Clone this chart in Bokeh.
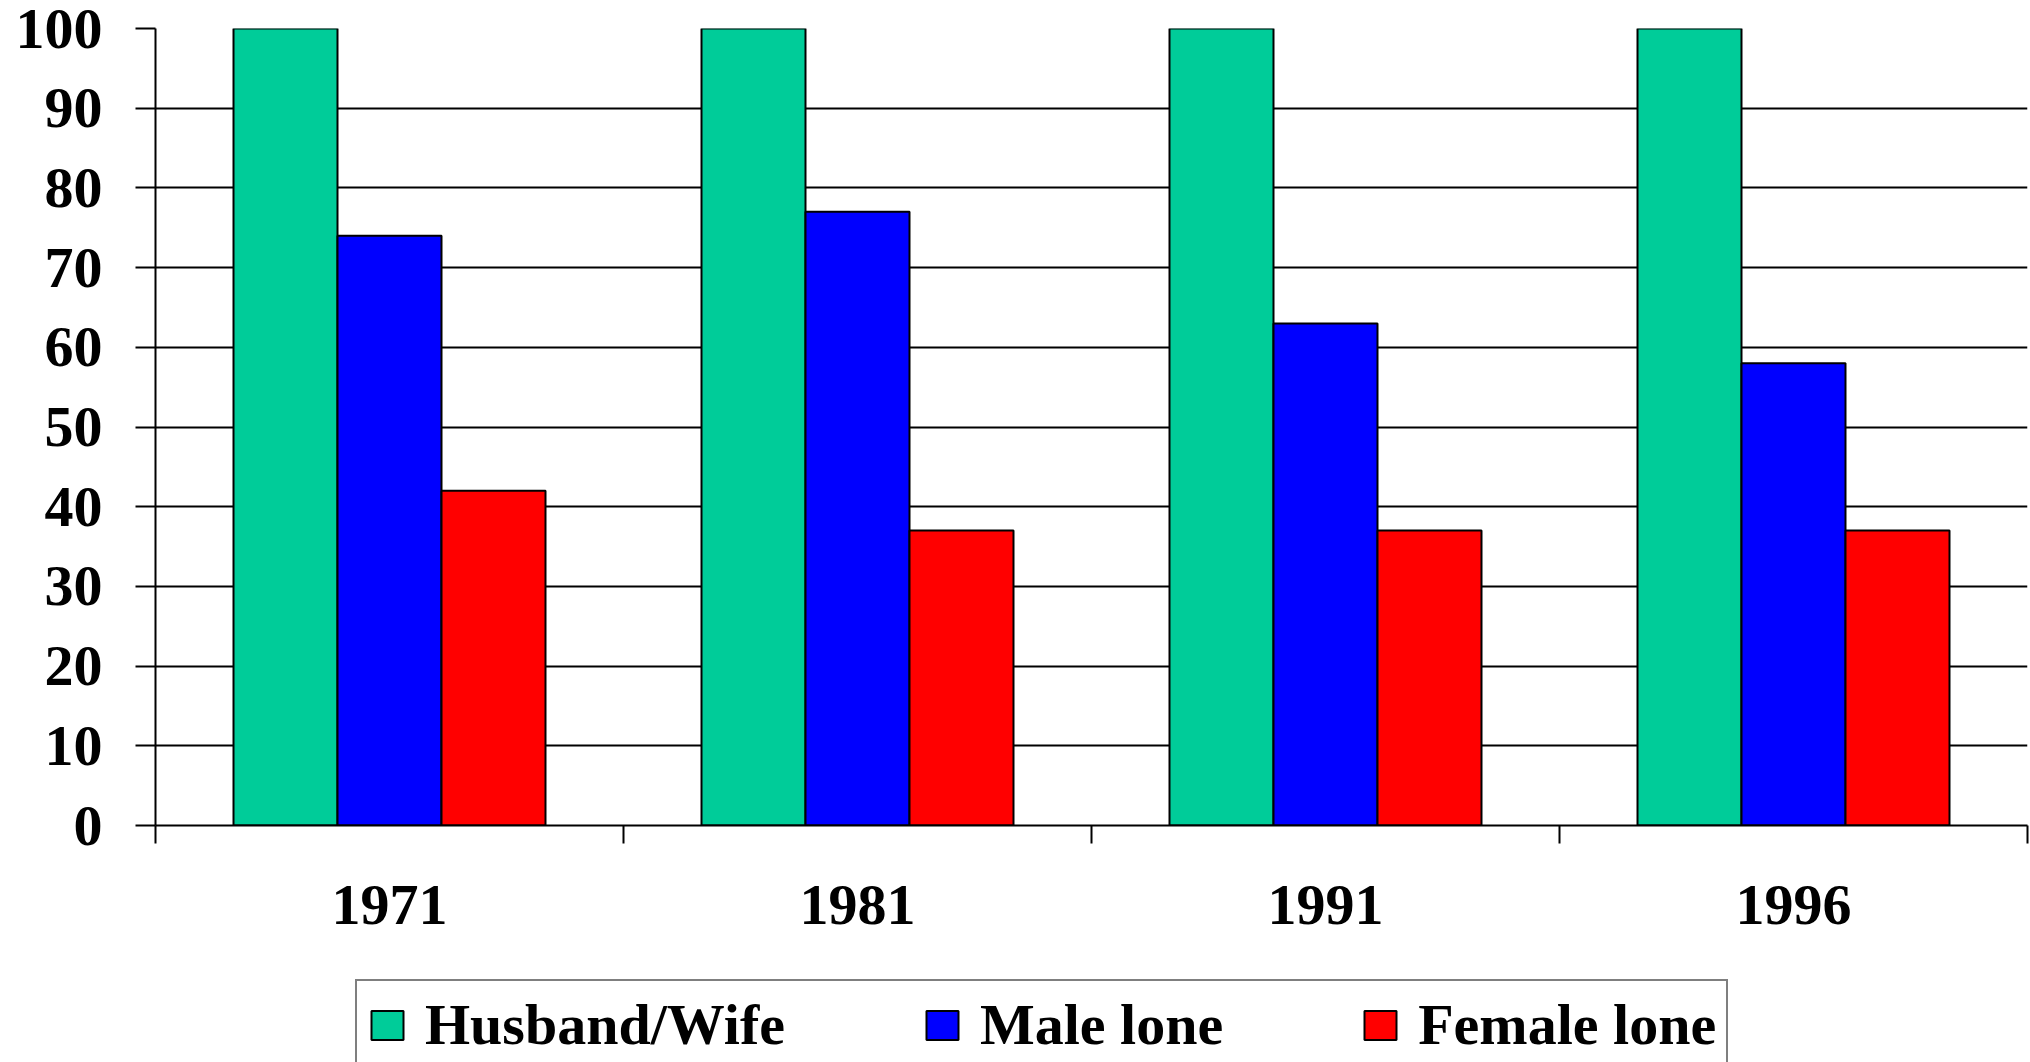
import numpy as np
from bokeh.plotting import figure
from bokeh.layouts import column, row
from bokeh.models import (ColumnDataSource, Range1d, FixedTicker, Legend, LegendItem,
                          CustomJSTickFormatter, Spacer)
from bokeh.embed import file_html
from bokeh.resources import INLINE

# ---- data ----
years = ["1971", "1981", "1991", "1996"]
husband_wife = [100, 100, 100, 100]
male_lone = [74, 77, 63, 58]
female_lone = [42, 37, 37, 37]
series_names = ["Husband/Wife", "Male lone", "Female lone"]
series_colors = ["#00CC99", "#0000FF", "#FF0000"]
y_ticks = list(range(0, 101, 10))

FONT = "Liberation Serif"
FSIZE = "58px"
n = len(years)
centers = np.arange(n) + 0.5
bar_w = 2 / 9
offsets = [-bar_w, 0.0, bar_w]
series_values = [husband_wife, male_lone, female_lone]

p = figure(width=2030, height=978, x_range=Range1d(0, n), y_range=Range1d(0, 100),
           output_backend="svg", toolbar_location=None,
           min_border_left=155, min_border_right=3, min_border_top=28, min_border_bottom=153)
p.outline_line_color = None
p.background_fill_color = "white"
p.border_fill_color = "white"

for vals, color, off in zip(series_values, series_colors, offsets):
    src = ColumnDataSource(dict(x=centers + off, top=vals))
    p.vbar(x="x", top="top", bottom=0, width=bar_w, source=src,
           fill_color=color, line_color="black", line_width=2)

# ---- x axis: labels at centers, ticks at category boundaries ----
xa = p.xaxis[0]
xa.ticker = FixedTicker(ticks=list(centers), minor_ticks=list(range(n + 1)))
xa.formatter = CustomJSTickFormatter(args=dict(labels=years),
                                     code="return labels[Math.floor(tick)]")
xa.axis_line_color = "black"
xa.axis_line_width = 2
xa.major_tick_out = 18
xa.major_tick_in = 0
xa.major_tick_line_color = None
xa.minor_tick_out = 18
xa.minor_tick_in = 0
xa.minor_tick_line_color = "black"
xa.minor_tick_line_width = 2
xa.major_label_standoff = 42

# ---- y axis ----
ya = p.yaxis[0]
ya.ticker = FixedTicker(ticks=y_ticks)
ya.axis_line_color = "black"
ya.axis_line_width = 2
ya.major_tick_out = 20
ya.major_tick_in = 0
ya.major_tick_line_color = "black"
ya.major_tick_line_width = 2
ya.minor_tick_line_color = None
ya.major_label_standoff = 33

for ax in (xa, ya):
    ax.major_label_text_font = FONT
    ax.major_label_text_font_style = "bold"
    ax.major_label_text_font_size = FSIZE
    ax.major_label_text_color = "black"

p.xgrid.grid_line_color = None
p.ygrid.grid_line_color = "black"
p.ygrid.grid_line_width = 2

# ---- legend strip (separate canvas under the chart; its bars hide behind the legend box) ----
PAD = 10
LEG_LEFT = 355
lg = figure(width=2030 - LEG_LEFT, height=84, output_backend="svg", toolbar_location=None,
            x_range=Range1d(0, 10), y_range=Range1d(0, 100),
            x_axis_type=None, y_axis_type=None,
            min_border_left=0, min_border_right=0, min_border_top=1, min_border_bottom=0)
lg.outline_line_color = None
lg.xgrid.grid_line_color = None
lg.ygrid.grid_line_color = None
lg.background_fill_color = "white"
lg.border_fill_color = "white"
lg_renderers = []
for vals, color, off in zip(series_values, series_colors, offsets):
    src = ColumnDataSource(dict(x=centers + off, top=vals))
    r = lg.vbar(x="x", top="top", bottom=0, width=bar_w, source=src,
                fill_color=color, line_color="black", line_width=2)
    lg_renderers.append(r)

legend = Legend(items=[LegendItem(label=nm, renderers=[r]) for nm, r in zip(series_names, lg_renderers)],
                orientation="horizontal", location="top_left", margin=0,
                padding=PAD, spacing=137, glyph_width=40, glyph_height=36, label_standoff=18,
                label_text_font=FONT, label_text_font_style="bold", label_text_font_size=FSIZE,
                label_text_color="black", label_text_baseline="alphabetic",
                border_line_color="black", border_line_width=2,
                background_fill_color="white", background_fill_alpha=1)
lg.add_layout(legend, "center")

layout = column(p, row(Spacer(width=LEG_LEFT, height=84), lg, spacing=0), spacing=0)
open("out.html", "w").write(file_html(layout, INLINE))
